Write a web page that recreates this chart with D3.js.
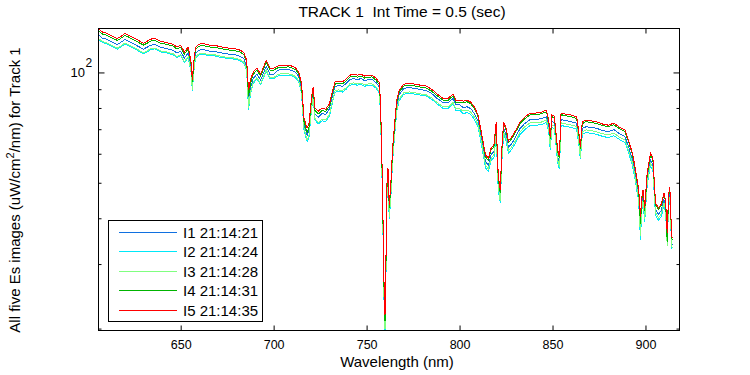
<!DOCTYPE html>
<html>
<head>
<meta charset="utf-8">
<script src="https://cdn.jsdelivr.net/npm/d3@7/dist/d3.min.js"></script>
<style>
  html, body { margin: 0; padding: 0; background: #fff; }
  svg { display: block; }
  text { font-family: "Liberation Sans", Arial, Helvetica, sans-serif; fill: #000; white-space: pre; }
</style>
</head>
<body>
<svg id="chart" width="750" height="375"></svg>
<script>
// ---------------- DATA ----------------
const titleText = "TRACK 1  Int Time = 0.5 (sec)";
const xLabelText = "Wavelength (nm)";
const seriesLabels = ["I1 21:14:21", "I2 21:14:24", "I3 21:14:28", "I4 21:14:31", "I5 21:14:35"];
const seriesColors = ["#1070e0", "#00e8f8", "#80ff80", "#00b400", "#ff0000"];
const xTicks = [650, 700, 750, 800, 850, 900];
const yMajorTicks = [100];
const yMinorTicks = [20, 30, 40, 50, 60, 70, 80, 90];
const xDomain = [605.8, 918.3];
const yDomain = [19.76, 131.8];

const wavelengths = [
 606,608,610,612,614,616,618,620,622,624,626,628,630,632,634,636,638,640,642,644,646,648,650,652,654,655.5,656.3,657,658,660,
 662,664,666,668,670,672,674,676,678,680,682,684,685.5,686.5,687.5,689,691,693,695,696,698,700,
 702,704,706,708,710,712,713.5,715,716.3,718,719,720.4,721.3,722.2,724,726,728,730,731.5,733,735,737,739,741,743,745,747,749,751,753,755,757,
 758,758.7,759.4,759.9,760.5,761,761.5,762.2,763,764,765,766.2,767.5,770,773,776,779,782,785,788,791,794,796.5,798,800,
 802,804,806,808,810,812,814,815.5,817,818.5,819.7,820.8,821.9,822.8,823.7,825,826.3,828,830,832.5,835,838,841,844,846.7,848,848.8,849.7,851,
 852.8,853.7,854.6,857,860,863,864.2,865,866,868,871,874,877,880,883,886,889,891,893,894.5,895.5,896.3,897.3,898,898.7,899.6,900.9,901.8,902.7,
 904,905.4,907,908.5,909.9,910.8,911.7,912.4,913.1,913.8,914.3
];

// I5 (red)
const i5 = [
 131.2,128.8,128.0,126.4,125.0,123.8,125.6,127.7,126.4,124.8,123.3,121.7,120.2,121.7,123.3,123.8,122.5,121.2,121.0,120.0,119.4,117.2,118.7,113.6,117.2,108.0,95.3,106.7,117.2,119.4,
 120.0,119.1,118.7,118.7,118.0,117.4,116.9,116.5,116.3,115.8,115.0,113.2,108.0,89.5,95.3,100.2,102.7,98.9,104.7,108.0,102.7,102.7,
 104.0,104.7,104.7,104.7,104.0,102.7,100.2,93.5,75.1,70.5,72.3,85.6,91.2,79.9,78.4,79.9,79.4,82.0,88.4,94.1,94.7,94.3,95.9,98.3,98.9,98.3,98.9,97.7,98.3,98.3,96.5,93.5,
 67.5,43.5,26.3,21.8,32.8,50.9,54.8,43.5,49.3,62.2,71.8,84.0,89.5,92.9,93.5,92.9,92.3,91.8,90.0,87.3,85.1,85.1,87.3,84.0,84.0,
 83.5,84.0,83.0,80.4,76.5,67.5,59.5,58.4,62.2,63.4,73.2,52.5,47.8,62.6,73.2,70.5,65.0,66.6,69.2,73.2,75.5,77.5,77.5,77.9,78.9,74.1,66.6,76.5,76.0,
 61.4,59.1,77.5,77.0,76.5,75.7,68.3,62.6,73.2,74.1,73.7,73.2,72.3,71.8,72.7,70.9,69.6,65.0,60.2,54.8,50.9,48.4,40.3,45.7,47.8,42.7,53.1,56.6,60.2,
 58.4,44.0,42.7,43.7,46.9,44.9,36.5,46.3,48.7,39.1,35.3
];

// I4 (green)
const i4 = [
 129.6,127.3,126.5,124.9,123.5,122.3,124.1,126.2,124.9,123.3,121.8,120.2,118.8,120.2,121.8,122.3,121.0,119.7,119.5,118.6,118.0,115.8,117.3,112.2,115.8,106.7,94.0,105.4,115.8,118.0,
 118.6,117.7,117.3,117.3,116.6,116.0,115.5,115.1,114.9,114.4,113.6,111.8,106.7,86.0,93.0,98.8,101.5,97.7,103.4,106.7,101.5,101.5,
 102.8,103.4,103.4,103.5,102.8,101.5,99.0,92.4,73.6,68.5,70.8,84.3,90.0,78.8,77.0,78.7,78.3,80.9,87.2,92.9,93.5,93.1,94.7,97.1,97.7,97.1,97.7,96.5,97.1,97.2,95.3,92.4,
 66.0,42.3,25.4,21.0,31.8,49.7,53.5,42.6,48.2,61.0,70.6,82.8,88.4,91.8,92.4,91.8,91.2,90.7,88.9,86.3,84.1,84.1,86.3,83.0,83.0,
 82.7,83.2,82.2,79.6,75.7,66.8,58.7,57.6,61.5,62.7,72.4,51.5,46.9,61.7,72.4,69.8,64.3,65.9,68.5,72.5,74.7,76.7,76.7,77.1,78.1,73.4,65.7,75.7,75.2,
 60.6,58.4,76.7,76.2,75.7,74.9,67.6,61.8,72.5,73.4,73.0,72.5,71.6,71.1,72.0,70.2,68.9,64.4,59.6,54.3,50.4,47.9,38.5,45.0,47.2,42.0,52.5,56.0,59.6,
 57.8,43.5,42.3,43.3,46.4,44.5,34.5,45.8,48.2,38.7,34.9
];

// I1 (blue)
const i1 = [
 126.3,124.0,123.3,121.7,120.4,119.2,121.0,123.0,121.7,120.2,118.7,117.2,115.8,117.2,118.7,119.2,118.0,116.7,116.5,115.6,115.0,112.9,114.3,109.4,112.9,104.0,91.8,102.8,112.9,115.0,
 115.6,114.7,114.3,114.3,113.6,113.1,112.6,112.2,112.0,111.5,110.7,109.0,104.0,84.0,90.5,96.3,98.9,95.2,100.8,104.0,98.9,98.9,
 101.2,101.9,101.9,101.8,101.2,99.9,97.5,91.0,72.5,67.3,69.5,82.6,88.3,77.2,75.5,77.3,76.8,79.5,85.6,91.5,92.1,91.7,93.3,95.6,96.2,95.6,96.2,95.0,95.6,95.7,93.9,91.0,
 65.0,41.5,24.8,20.5,31.2,48.8,52.6,41.8,47.4,60.0,69.5,81.4,87.0,90.4,91.0,90.4,89.8,89.3,87.6,84.9,82.8,82.8,84.9,81.7,81.7,
 80.2,80.6,79.7,77.2,73.4,64.8,57.0,55.9,59.7,60.8,70.3,50.0,45.5,59.9,70.3,67.7,62.4,63.9,66.4,70.3,72.5,74.4,74.4,74.8,75.7,71.1,63.7,73.4,73.0,
 58.8,56.6,74.4,73.9,73.4,72.7,65.6,59.9,70.3,71.1,70.8,70.3,69.4,68.9,69.8,68.1,66.8,62.4,57.8,52.6,48.9,46.5,37.0,43.6,45.8,40.8,51.0,54.3,57.8,
 56.1,42.2,41.0,42.0,45.0,43.1,35.0,44.4,46.8,37.5,33.9
];

// I3 (light green)
const i3 = [
 123.6,121.3,120.6,119.1,117.8,116.6,118.3,120.3,119.1,117.6,116.1,114.6,113.2,114.6,116.1,116.6,115.4,114.2,114.0,113.0,112.5,110.4,111.8,107.0,110.4,101.7,89.5,100.5,110.4,112.5,
 113.0,112.2,111.8,111.8,111.2,110.6,110.1,109.7,109.6,109.1,108.3,106.6,101.7,80.0,88.0,94.0,96.7,93.2,98.6,101.7,96.7,96.7,
 98.5,99.2,99.2,99.1,98.5,97.3,94.9,88.5,70.5,65.5,67.2,80.0,85.8,74.9,73.0,74.6,74.2,76.9,83.0,89.0,89.6,89.2,90.8,93.1,93.6,93.1,93.6,92.5,93.1,93.0,91.4,88.5,
 63.0,40.0,23.8,19.9,30.0,47.0,50.7,40.3,45.7,58.0,67.3,79.0,84.6,88.0,88.5,88.0,87.4,86.9,85.2,82.7,80.6,80.6,82.7,79.5,79.5,
 78.5,79.0,78.0,75.6,71.9,63.5,55.7,54.6,58.4,59.5,68.8,48.8,44.5,58.5,68.8,66.3,61.1,62.6,65.0,68.8,71.0,72.9,72.9,73.2,74.2,69.7,62.3,71.9,71.4,
 57.5,55.3,72.9,72.4,71.9,71.2,64.2,58.6,68.8,69.7,69.3,68.8,68.0,67.5,68.3,66.6,65.4,61.1,56.6,51.5,47.8,45.5,35.8,42.6,44.8,39.8,49.9,53.2,56.6,
 54.9,41.4,40.1,41.1,44.1,42.2,33.6,43.5,45.8,36.8,33.2
];

// I2 (cyan)
const i2 = [
 122.8,120.6,119.8,118.3,117.0,115.9,117.6,119.5,118.3,116.8,115.4,113.9,112.5,113.9,115.4,115.9,114.7,113.4,113.3,112.3,111.8,109.7,111.1,106.3,109.7,101.1,88.9,99.9,109.7,111.8,
 112.3,111.5,111.1,111.1,110.4,109.9,109.4,109.0,108.9,108.4,107.6,106.0,101.1,78.9,87.2,93.3,96.1,92.6,98.0,101.1,96.1,96.1,
 97.7,98.3,98.3,98.4,97.7,96.4,94.1,87.8,69.8,64.7,66.4,79.2,85.0,74.2,72.3,73.8,73.4,76.0,82.2,88.2,88.8,88.4,90.0,92.3,92.8,92.3,92.8,91.7,92.3,92.2,90.6,87.8,
 62.2,39.5,23.4,19.8,29.6,46.4,50.0,39.8,45.1,57.3,66.6,78.2,83.8,87.2,87.8,87.2,86.7,86.2,84.5,82.0,79.9,79.9,82.0,78.9,78.9,
 77.2,77.7,76.8,74.4,70.8,62.4,54.8,53.7,57.5,58.6,67.7,48.0,44.0,57.6,67.7,65.2,60.1,61.6,64.0,67.7,69.8,71.7,71.7,72.1,73.0,68.5,61.3,70.8,70.3,
 56.6,54.5,71.7,71.2,70.8,70.0,63.2,58.0,67.7,68.5,68.2,67.7,66.9,66.4,67.2,65.6,64.4,60.1,55.7,50.7,47.1,44.8,35.0,41.9,44.0,39.2,49.1,52.4,55.7,
 54.0,40.7,39.5,40.4,43.4,41.5,33.9,42.8,45.0,36.2,32.7
];

const seriesValues = [i1, i2, i3, i4, i5];

// ---------------- CHART ----------------
const svg = d3.select("#chart");
svg.append("rect").attr("width", 750).attr("height", 375).attr("fill", "#fff");

const plot = { left: 98.5, right: 679.5, top: 28.5, bottom: 330.5 };

const x = d3.scaleLinear().domain(xDomain).range([plot.left, plot.right]);
const y = d3.scaleLog().domain(yDomain).range([plot.bottom, plot.top]);

svg.append("defs").append("clipPath").attr("id", "clip")
  .append("rect")
  .attr("x", plot.left).attr("y", plot.top)
  .attr("width", plot.right - plot.left).attr("height", plot.bottom - plot.top);

// lines
const line = d3.line()
  .x((d, i) => x(wavelengths[i]))
  .y(d => y(d));

const lineG = svg.append("g").attr("clip-path", "url(#clip)");
seriesValues.forEach((vals, k) => {
  lineG.append("path")
    .attr("d", line(vals))
    .attr("fill", "none")
    .attr("stroke", seriesColors[k])
    .attr("stroke-width", 1)
    .attr("stroke-linejoin", "miter")
    .attr("shape-rendering", "crispEdges");
});

// axes (ticks drawn inward)
function clean(g) { g.select(".domain").remove(); g.selectAll(".tick line").attr("stroke", "#000"); }

const bottomAxis = svg.append("g")
  .attr("transform", `translate(0,${plot.bottom})`)
  .call(d3.axisBottom(x).tickValues(xTicks).tickSize(-5).tickSizeOuter(0).tickFormat(d3.format("d")))
  .call(clean);
bottomAxis.selectAll(".tick text")
  .attr("y", 18).attr("dy", 0)
  .style("font-size", "12.5px")
  .style("font-family", "'Liberation Sans', Arial, sans-serif")
  .attr("fill", "#000");

svg.append("g")
  .attr("transform", `translate(0,${plot.top})`)
  .call(d3.axisTop(x).tickValues(xTicks).tickSize(-5).tickSizeOuter(0).tickFormat(""))
  .call(clean);

svg.append("g")
  .attr("transform", `translate(${plot.left},0)`)
  .call(d3.axisLeft(y).tickValues(yMajorTicks).tickSize(-6).tickSizeOuter(0).tickFormat(""))
  .call(clean);
svg.append("g")
  .attr("transform", `translate(${plot.left},0)`)
  .call(d3.axisLeft(y).tickValues(yMinorTicks).tickSize(-3).tickSizeOuter(0).tickFormat(""))
  .call(clean);
svg.append("g")
  .attr("transform", `translate(${plot.right},0)`)
  .call(d3.axisRight(y).tickValues(yMajorTicks).tickSize(-6).tickSizeOuter(0).tickFormat(""))
  .call(clean);
svg.append("g")
  .attr("transform", `translate(${plot.right},0)`)
  .call(d3.axisRight(y).tickValues(yMinorTicks).tickSize(-3).tickSizeOuter(0).tickFormat(""))
  .call(clean);

// 10^2 label
yMajorTicks.forEach(v => {
  const exp = Math.round(Math.log10(v));
  svg.append("text")
    .attr("x", 85).attr("y", y(v) + 4.5)
    .attr("text-anchor", "end")
    .style("font-size", "13px")
    .text("10");
  svg.append("text")
    .attr("x", 85.5).attr("y", y(v) - 5.5)
    .style("font-size", "12px")
    .text(String(exp));
});

// frame
svg.append("rect")
  .attr("x", plot.left).attr("y", plot.top)
  .attr("width", plot.right - plot.left).attr("height", plot.bottom - plot.top)
  .attr("fill", "none").attr("stroke", "#000").attr("stroke-width", 1)
  .attr("shape-rendering", "crispEdges");

// title
svg.append("text")
  .attr("x", 402).attr("y", 16.5)
  .attr("text-anchor", "middle")
  .attr("xml:space", "preserve")
  .style("font-size", "15.5px")
  .text(titleText);

// x label
svg.append("text")
  .attr("x", 397).attr("y", 367)
  .attr("text-anchor", "middle")
  .style("font-size", "15px")
  .text(xLabelText);

// y label
const yl = svg.append("text")
  .attr("transform", "translate(20,190) rotate(-90)")
  .attr("text-anchor", "middle")
  .style("font-size", "15px");
yl.append("tspan").text("All five Es images (uW/cm");
yl.append("tspan").attr("dy", -6).style("font-size", "11px").text("2");
yl.append("tspan").attr("dy", 6).text("/nm) for Track 1");

// legend
const legend = svg.append("g");
legend.append("rect")
  .attr("x", 108.5).attr("y", 220.5).attr("width", 154).attr("height", 101)
  .attr("fill", "#fff").attr("stroke", "#000").attr("stroke-width", 1)
  .attr("shape-rendering", "crispEdges");
const legendRows = [231.5, 251, 270.5, 290, 309.5];
seriesLabels.forEach((lab, k) => {
  const ry = Math.round(legendRows[k]) + 0.5;
  legend.append("line")
    .attr("x1", 119).attr("x2", 177).attr("y1", ry).attr("y2", ry)
    .attr("stroke", seriesColors[k]).attr("stroke-width", 1)
    .attr("shape-rendering", "crispEdges");
  legend.append("text")
    .attr("x", 183).attr("y", ry + 5.5)
    .style("font-size", "15px")
    .text(lab);
});
</script>
</body>
</html>
